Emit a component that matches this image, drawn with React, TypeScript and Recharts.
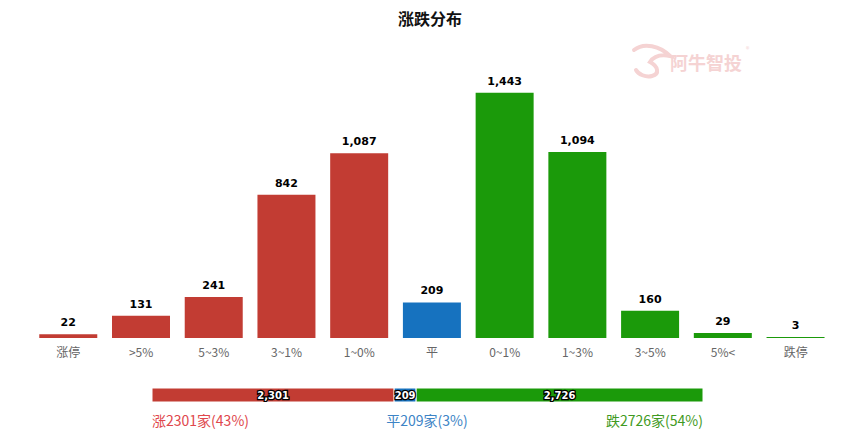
import React from 'react';
import { BarChart, Bar, XAxis, YAxis, Cell, LabelList } from 'recharts';

const categories = ['涨停', '>5%', '5~3%', '3~1%', '1~0%', '平', '0~1%', '1~3%', '3~5%', '5%<', '跌停'];
const counts = [22, 131, 241, 842, 1087, 209, 1443, 1094, 160, 29, 3];
const groups = ['up', 'up', 'up', 'up', 'up', 'flat', 'down', 'down', 'down', 'down', 'down'];

const summaryKeys = ['up', 'flat', 'down'];
const summaryLabels = ['涨', '平', '跌'];
const summaryValues = [2301, 209, 2726];
const summaryPct = [43, 3, 54];

const barColors: Record<string, string> = { up: '#c23c33', flat: '#1672bf', down: '#1b9a0a' };
const textColors: Record<string, string> = { up: '#e0474c', flat: '#3d84c6', down: '#3f9a22' };

const data = categories.map((name, i) => ({ name, value: counts[i], group: groups[i] }));
const summaryRow: Record<string, number | string> = { name: 'all' };
summaryKeys.forEach((k, i) => { summaryRow[k] = summaryValues[i]; });
const total = summaryValues.reduce((a, b) => a + b, 0);

const fmt = (v: any) => Number(v).toLocaleString('en-US');

export default function App() {
  return (
    <div style={{ position: 'absolute', left: 0, top: 0, width: 843, height: 448, background: '#fff', fontFamily: '"Noto Sans CJK SC", sans-serif' }}>
      <div style={{ position: 'absolute', top: 6, left: 0, width: 860, textAlign: 'center', fontSize: 16, fontWeight: 'bold', color: '#111' }}>
        涨跌分布
      </div>
      {/* watermark */}
      <svg style={{ position: 'absolute', left: 630, top: 42 }} width={125} height={40}>
        <path d="M4 8 C14 0 30 4 40 14 C30 12 24 14 20 20 C28 24 30 32 22 34 C16 36 8 32 6 28"
          fill="none" stroke="#f5d3d3" strokeWidth={4} strokeLinecap="round" />
        <text x={40} y={28} fontSize={18} fontWeight="bold" fill="#f5d3d3">阿牛智投</text>
        <text x={116} y={10} fontSize={7} fill="#f5d3d3">®</text>
      </svg>
      <div style={{ position: 'absolute', left: 0, top: 0 }}>
        <BarChart width={843} height={370} data={data} margin={{ top: 66, right: 11, left: 32, bottom: 0 }} barCategoryGap="10%">
          <XAxis dataKey="name" axisLine={false} tickLine={false} height={32} tickMargin={4}
            tick={{ fontSize: 12, fill: '#666', fontFamily: '"Noto Sans CJK SC", sans-serif' }} interval={0} />
          <YAxis hide domain={[0, 1600]} />
          <Bar dataKey="value" isAnimationActive={false} minPointSize={1}>
            {data.map((d, i) => <Cell key={i} fill={barColors[d.group]} />)}
            <LabelList dataKey="value" position="top" offset={8} formatter={fmt}
              style={{ fontSize: 11, fontWeight: 'bold', fill: '#000', fontFamily: '"DejaVu Sans", sans-serif' }} />
          </Bar>
        </BarChart>
      </div>
      <div style={{ position: 'absolute', left: 152, top: 388 }}>
        <BarChart width={551} height={14} data={[summaryRow]} layout="vertical" margin={{ top: 0, right: 0, left: 0, bottom: 0 }} barCategoryGap={0}>
          <XAxis type="number" hide domain={[0, total]} />
          <YAxis type="category" dataKey="name" hide />
          {summaryKeys.map(k => (
            <Bar key={k} dataKey={k} stackId="s" fill={barColors[k]} stroke="#fff" strokeWidth={1} isAnimationActive={false}>
              <LabelList dataKey={k} position="center" formatter={fmt}
                style={{ fontSize: 10, fontWeight: 'bold', fill: '#fff', stroke: '#000', strokeWidth: 2.5, paintOrder: 'stroke', fontFamily: '"DejaVu Sans", sans-serif' }} />
            </Bar>
          ))}
        </BarChart>
      </div>
      {summaryKeys.map((k, i) => {
        const pos: React.CSSProperties = i === 0 ? { left: 152 } : i === 1 ? { left: 327, width: 200, textAlign: 'center' } : { right: 843 - 703 };
        return (
          <div key={k} style={{ position: 'absolute', top: 410, fontSize: 14, color: textColors[k], ...pos }}>
            {summaryLabels[i]}{summaryValues[i]}家({summaryPct[i]}%)
          </div>
        );
      })}
    </div>
  );
}
